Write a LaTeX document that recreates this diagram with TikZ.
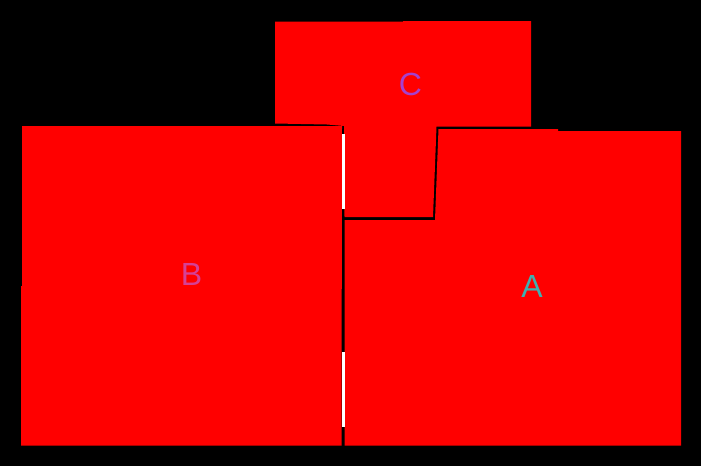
\documentclass[tikz,border=0pt]{standalone}
\usepackage{fontspec}
\setmainfont{Liberation Sans}
\usepackage{xcolor}
\definecolor{labA}{RGB}{64,176,176}
\definecolor{labB}{RGB}{214,64,150}
\definecolor{labC}{RGB}{166,64,206}
\tikzstyle{room} = [fill=red, draw=none]
\tikzstyle{gap} = [fill=white, draw=none]
\tikzstyle{roomlabel} = [inner sep=0pt, font=\fontsize{32}{32}\selectfont]

\begin{document}
\begin{tikzpicture}[x=1pt, y=-1pt]

    % Background
    \fill[black] (0,0) rectangle (701,466);
    \useasboundingbox (0,0) rectangle (701,466);

    % Rooms
    \fill[room] (22,126) -- (342,126) -- (341.5,445.5) -- (21,445.5)
        -- (21,286) -- (22,286) -- cycle;
    \fill[room] (344.5,220) -- (435,220) -- (438.5,129) -- (558,129)
        -- (558,131) -- (681,131) -- (681,445.5) -- (344.5,445.5) -- cycle;
    \fill[room] (275,21.5) -- (403,21.5) -- (403,21) -- (531,21)
        -- (531,126.5) -- (436.5,126.5) -- (433,217) -- (344.5,217)
        -- (344,126) -- (327,124.5) -- (275,123.5) -- cycle;

    % Openings
    \fill[gap] (341.5,134) rectangle (344.5,209);
    \fill[gap] (341.5,352) rectangle (344.5,427);

    % Labels
    \node[roomlabel, text=labC] (lc) at (410.5,84.5) {C};
    \node[roomlabel, text=labB] (lb) at (191.5,274.5) {B};
    \node[roomlabel, text=labA] (la) at (532,286.5) {A};

\end{tikzpicture}
\end{document}
